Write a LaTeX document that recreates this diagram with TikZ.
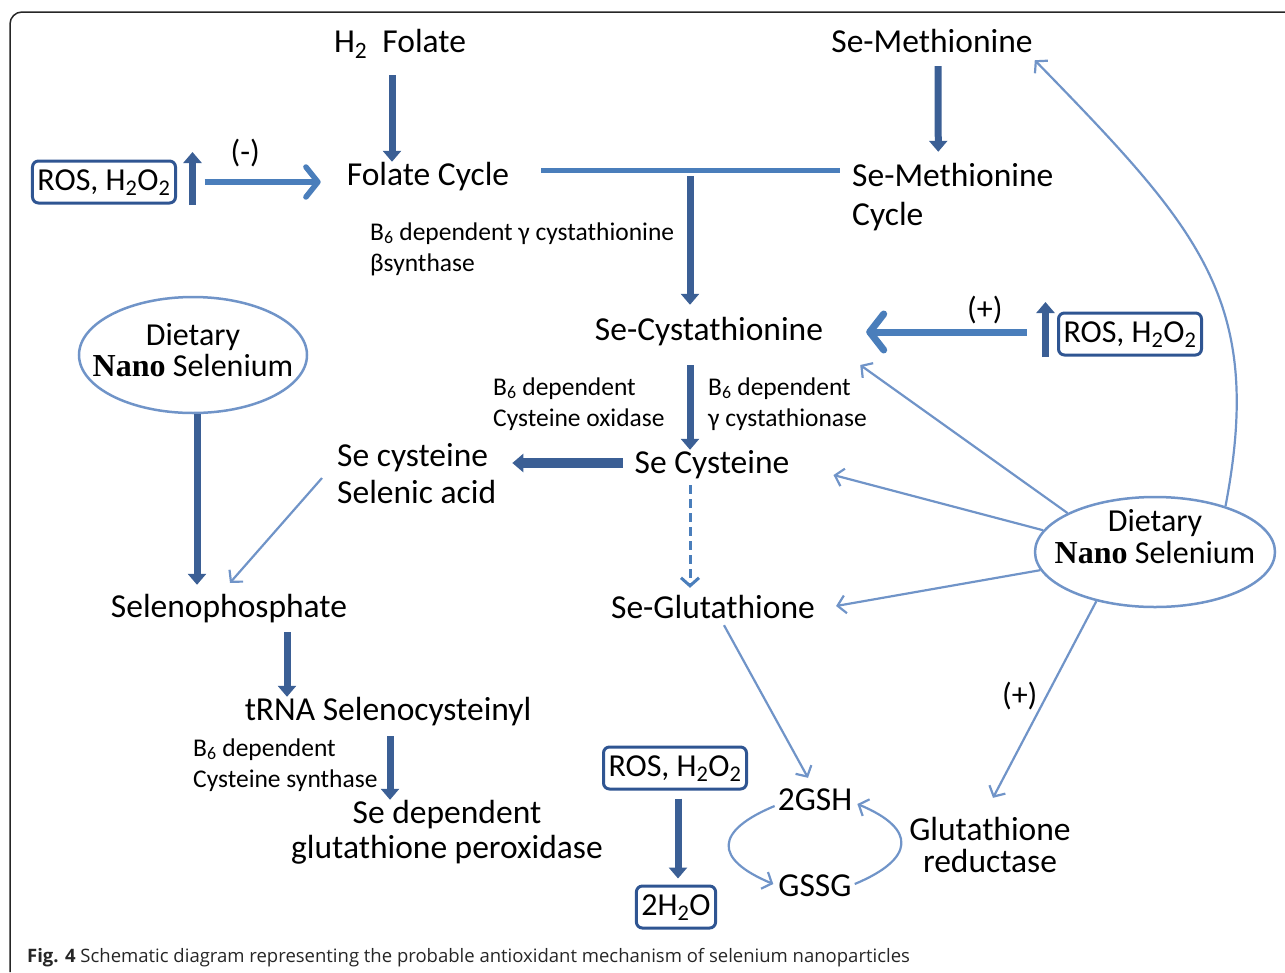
\documentclass[tikz,border=0pt]{standalone}
\usepackage{fontspec}
\setmainfont{Carlito}
\newfontfamily\capfont{Open Sans}
\newfontfamily\nanofont{Liberation Serif}
\usetikzlibrary{arrows.meta}
\usetikzlibrary{shapes.geometric}

\definecolor{darkblue}{HTML}{3B5F95}
\definecolor{midblue}{HTML}{4A7EBB}
\definecolor{lightblue}{HTML}{7094C8}
\definecolor{boxblue}{HTML}{2F5592}

\newcommand{\nanoword}{{\nanofont\bfseries Nano}}
\newcommand{\rostext}{ROS, H\textsubscript{2}O\textsubscript{2}}

\begin{document}
\begin{tikzpicture}[x=1pt,y=-1pt,
    sign/.style={font=\fontsize{32}{39}\selectfont,inner sep=0pt}]
\useasboundingbox (0,0) rectangle (1285,972);
\draw[black!85,line width=1.5pt,rounded corners=12pt] (1285,12) -- (10,12) -- (10,972);

\begin{scope}[every node/.style={font=\fontsize{33.5}{39}\selectfont,inner sep=0pt,
                                 text height=23pt,text depth=7pt}]
    \node (h2folate) at (400,44) {H\textsubscript{2}\ \ Folate};
    \node (semeth) at (932,44) {Se-Methionine};
    \node (folcycle) at (428,177) {Folate Cycle};
    \node (secysta) at (709,332) {Se-Cystathionine};
    \node (secys) at (712,465) {Se Cysteine};
    \node (selphos) at (229,609) {Selenophosphate};
    \node (seglut) at (713,610) {Se-Glutathione};
    \node (trna) at (388,712) {tRNA Selenocysteinyl};
    \node (gsh) at (815,802) {2GSH};
    \node (gssg) at (815,888) {GSSG};
    \node[anchor=base west,align=left,text height=62pt] (semethcyc) at (852,225) {Se-Methionine\\Cycle};
    \node[anchor=base west,align=left,text height=60pt,font=\fontsize{33.5}{37}\selectfont]
        (seselenic) at (337,503) {Se cysteine\\Selenic acid};
    \node[anchor=base,align=center,text height=58pt,font=\fontsize{33.5}{35}\selectfont]
        (sedep) at (447,858) {Se dependent\\glutathione peroxidase};
    \node[anchor=base,align=center,text height=55pt,font=\fontsize{33.5}{32}\selectfont]
        (glured) at (990,872) {Glutathione\\reductase};
\end{scope}

\begin{scope}[every node/.style={font=\fontsize{25.5}{31}\selectfont,inner sep=0pt,
                                 anchor=base west,align=left}]
    \node (cbslabel) at (370,271) {B\textsubscript{6} dependent γ cystathionine\\βsynthase};
    \node (coxlabel) at (493,426) {B\textsubscript{6} dependent\\Cysteine oxidase};
    \node (cthlabel) at (708,426) {B\textsubscript{6} dependent\\γ cystathionase};
    \node (csylabel) at (193,787) {B\textsubscript{6} dependent\\Cysteine synthase};
\end{scope}

\begin{scope}[every node/.style={draw=boxblue,line width=3pt,rounded corners=6pt,
                                 font=\fontsize{32}{39}\selectfont,inner xsep=5pt,inner ysep=6pt,
                                 text height=23pt,text depth=7pt}]
    \node (roslft) at (104,182) {\rostext};
    \node (rosright) at (1130,334) {\rostext};
    \node (rosbot) at (675,768) {\rostext};
    \node (water) at (676,907) {2H\textsubscript{2}O};
\end{scope}

\begin{scope}[every node/.style={draw=lightblue,line width=2.5pt,ellipse,inner sep=0pt}]
    \node[minimum width=228pt,minimum height=116pt] (nanolft) at (193,355) {};
    \node[minimum width=240pt,minimum height=110pt] (nanorgt) at (1155,552) {};
\end{scope}

\begin{scope}[every node/.style={font=\fontsize{32}{31.5}\selectfont,inner sep=0pt,
                                 align=center,text depth=7pt}]
    \node[text height=50pt] (nanolfttext) at (nanolft) {Dietary\\\nanoword\ Selenium};
    \node[text height=29pt] (nanorgttext) at (nanorgt) {Dietary\\\nanoword\ Selenium};
\end{scope}

\node[anchor=base west,inner sep=0pt,text=black!85,font=\capfont\fontsize{18.5}{22}\selectfont]
    (caption) at (27,962) {\textbf{Fig. 4} Schematic diagram representing the probable antioxidant mechanism of selenium nanoparticles};

\coordinate (split) at (690,176);
\draw[midblue,line width=5pt,shorten <=32pt,shorten >=12pt]
    ([yshift=7pt]folcycle.east) -- ([yshift=7pt]folcycle.east -| semethcyc.west);

\begin{scope}[>={Triangle[width=18pt,length=11pt]},
              every edge/.style={draw=darkblue,line width=7pt}]
    \path [->] ([xshift=-8pt,yshift=-16pt]h2folate.south) edge ([xshift=-36pt]folcycle.north);
    \path [->] ([xshift=6pt,yshift=-7pt]semeth.south) edge ([xshift=-14.5pt,yshift=11pt]semethcyc.north);
    \path [->] (split) edge ([xshift=-19pt,yshift=12pt]secysta.north);
    \path [->] ([xshift=15.5pt,yshift=-23pt]roslft.east) edge ([xshift=15.5pt,yshift=30pt]roslft.east);
    \path [->] ([xshift=-11.5pt,yshift=-23pt]rosright.west) edge ([xshift=-11.5pt,yshift=32pt]rosright.west);
    \path [->] ([xshift=4pt]nanolft.south) edge ([xshift=-32pt,yshift=9pt]selphos.north);
    \path [->] ([xshift=-19pt,yshift=-18pt]secysta.south) edge ([xshift=-22pt]secys.north);
    \path [->] ([xshift=-12pt,yshift=2pt]secys.west) edge[line width=10pt] ([xshift=16pt,yshift=2pt]secys.west -| seselenic.east);
    \path [->] ([xshift=58pt,yshift=-8pt]selphos.south) edge ([xshift=-101pt]trna.north);
    \path [->] ([xshift=2pt,yshift=-9pt]trna.south) edge ([xshift=-57pt]sedep.north);
    \path [->] ([xshift=3pt,yshift=-8pt]rosbot.south) edge ([xshift=2pt,yshift=6pt]water.north);
\end{scope}

\begin{scope}[>={Straight Barb[round,length=12pt,width=30pt]},
              every edge/.style={draw=midblue,line width=5.5pt}]
    \path [->] ([xshift=27.5pt]roslft.east) edge node[sign,pos=0.35,yshift=29pt] {(-)}
        ([xshift=-26pt,yshift=-5pt]folcycle.west);
    \path [->] ([xshift=-30.5pt,yshift=2pt]rosright.west) edge[line width=7pt,
        -{Straight Barb[round,length=14pt,width=36pt]}]
        node[sign,pos=0.26,yshift=22pt] {(+)} ([xshift=43pt]secysta.east);
\end{scope}

\begin{scope}[>={Straight Barb[length=8pt,width=18pt]},
              every edge/.style={draw=lightblue,line width=2.2pt}]
    \path [->] ([xshift=-15pt,yshift=-1.5pt]seselenic.west) edge ([xshift=1pt,yshift=11pt]selphos.north);
    \path [->] (nanorgt.156) edge ([xshift=37pt,yshift=-33pt]secysta.east);
    \path [->] (nanorgt.169) edge ([xshift=44pt,yshift=-10pt]secys.east);
    \path [->] (nanorgt.189) edge ([xshift=21pt,yshift=4pt]seglut.east);
    \path [->] (nanorgt.220) edge node[sign,pos=0.48,xshift=-27pt] {(+)} ([xshift=3pt,yshift=19pt]glured.north);
    \path [->] ([xshift=11pt]seglut.south) edge ([xshift=-7pt,yshift=9pt]gsh.north);
    \draw [->,draw=lightblue,line width=2.2pt] (nanorgt.33)
        .. controls (1265,300) and (1200,230) .. ([xshift=2pt,yshift=-1pt]semeth.south east);
    \draw [->,draw=lightblue,line width=2.2pt] ([xshift=-3pt,yshift=-4pt]gsh.west)
        .. controls +(-60,25) and +(-60,-25) .. ([xshift=-5pt,yshift=4pt]gssg.west);
    \draw [->,draw=lightblue,line width=2.2pt] ([xshift=3pt,yshift=4pt]gssg.east)
        .. controls +(60,-25) and +(60,25) .. ([xshift=5pt,yshift=-2pt]gsh.east);
\end{scope}

\draw[->,>={Straight Barb[length=8pt,width=18pt]},midblue,line width=3pt,dash pattern=on 9pt off 5pt]
    ([xshift=-22pt,yshift=-5pt]secys.south) -- ([xshift=-23pt,yshift=7pt]seglut.north);
\end{tikzpicture}
\end{document}
